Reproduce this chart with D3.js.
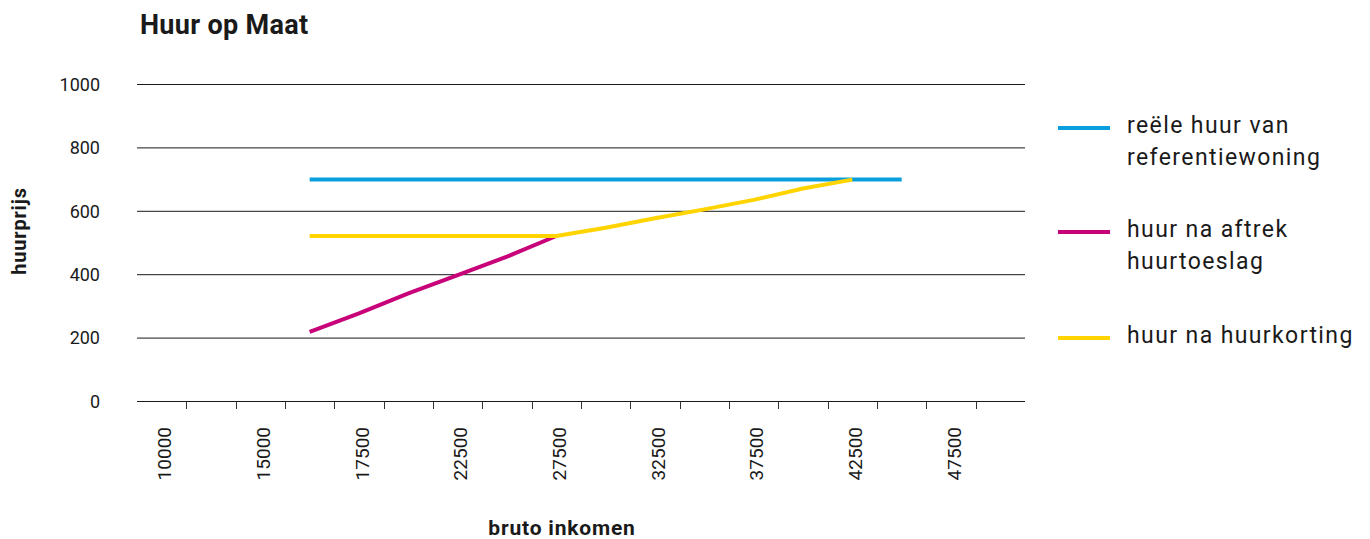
<!DOCTYPE html>
<html>
<head>
<meta charset="utf-8">
<script src="https://cdn.jsdelivr.net/npm/d3@7"></script>
<style>
  body { margin: 0; background: #fff; }
  text { font-family: Roboto, "Noto Sans", sans-serif; fill: #1a1a1a; }
</style>
</head>
<body>
<div id="chart"></div>
<script>
// data
var incomes = ["10000", "12500", "15000", "16250", "17500", "20000", "22500", "25000", "27500",
               "30000", "32500", "35000", "37500", "40000", "42500", "45000", "47500", "50000"];
var reeleHuur   = [null, null, null, 700, 700, 700, 700, 700, 700, 700, 700, 700, 700, 700, 700, 700, null, null];
var naToeslag   = [null, null, null, 220, 278, 341, 399, 457, 522, null, null, null, null, null, null, null, null, null];
var naKorting   = [null, null, null, 522, 522, 522, 522, 522, 522, 548, 578, 606, 636, 672, 700, null, null, null];
var yTicks = [0, 200, 400, 600, 800, 1000];
var seriesNames = [["reële huur van", "referentiewoning"], ["huur na aftrek", "huurtoeslag"], ["huur na huurkorting"]];
var seriesColors = ["#0a9fdc", "#c8037a", "#ffd400"];

var width = 1370, height = 539;

var svg = d3.select("#chart").append("svg")
    .attr("width", width)
    .attr("height", height);

var x = d3.scaleBand()
    .domain(incomes)
    .range([137, 1025])
    .paddingInner(0);

var y = d3.scaleLinear()
    .domain([0, 1000])
    .range([401.5, 84.5]);

// gridlines
svg.append("g").selectAll("line")
    .data(yTicks)
    .enter().append("line")
    .attr("x1", 137).attr("x2", 1025)
    .attr("y1", function (d) { return y(d); })
    .attr("y2", function (d) { return y(d); })
    .attr("stroke", "#1a1a1a")
    .attr("stroke-width", 1);

// y labels
svg.append("g").selectAll("text")
    .data(yTicks)
    .enter().append("text")
    .attr("x", 100)
    .attr("y", function (d) { return y(d); })
    .attr("dy", "0.35em")
    .attr("text-anchor", "end")
    .style("font-size", "18px")
    .text(function (d) { return d; });

// x ticks between the bands
svg.append("g").selectAll("line")
    .data(incomes.slice(1))
    .enter().append("line")
    .attr("x1", function (d) { return Math.round(x(d)) + 0.5; })
    .attr("x2", function (d) { return Math.round(x(d)) + 0.5; })
    .attr("y1", 401.5).attr("y2", 409)
    .attr("stroke", "#333");

// x labels, every other category
svg.append("g").selectAll("text")
    .data(incomes.filter(function (d, i) { return i % 2 == 0; }))
    .enter().append("text")
    .attr("transform", function (d) { return "translate(" + (x(d) + x.bandwidth() / 2 + 3) + ",427) rotate(-90)"; })
    .attr("dy", "0.35em")
    .attr("text-anchor", "end")
    .style("font-size", "19px")
    .text(function (d) { return d; });

// lines
var line = d3.line()
    .defined(function (d) { return d != null; })
    .x(function (d, i) { return x(incomes[i]) + x.bandwidth() / 2; })
    .y(function (d) { return y(d); });

[reeleHuur, naToeslag, naKorting].forEach(function (s, k) {
    svg.append("path")
        .datum(s)
        .attr("fill", "none")
        .attr("stroke", seriesColors[k])
        .attr("stroke-width", 4)
        .attr("d", line);
});

// titles
svg.append("text")
    .attr("x", 140).attr("y", 34)
    .style("font-size", "27px")
    .style("font-weight", "bold")
    .style("letter-spacing", "0.3px")
    .text("Huur op Maat");

svg.append("text")
    .attr("transform", "translate(26,231) rotate(-90)")
    .attr("text-anchor", "middle")
    .style("font-size", "20px")
    .style("font-weight", "bold")
    .style("letter-spacing", "0.8px")
    .text("huurprijs");

svg.append("text")
    .attr("x", 562).attr("y", 535)
    .attr("text-anchor", "middle")
    .style("font-size", "21px")
    .style("font-weight", "bold")
    .style("letter-spacing", "0.8px")
    .text("bruto inkomen");

// legend
var legendY = [128, 232, 338];
var legend = svg.append("g");
seriesNames.forEach(function (lines, k) {
    legend.append("line")
        .attr("x1", 1058).attr("x2", 1110)
        .attr("y1", legendY[k]).attr("y2", legendY[k])
        .attr("stroke", seriesColors[k])
        .attr("stroke-width", 4);
    lines.forEach(function (t, j) {
        legend.append("text")
            .attr("x", 1127)
            .attr("y", legendY[k] + 5 + j * 32)
            .style("font-size", "23px")
            .style("letter-spacing", "1.4px")
            .text(t);
    });
});
</script>
</body>
</html>
